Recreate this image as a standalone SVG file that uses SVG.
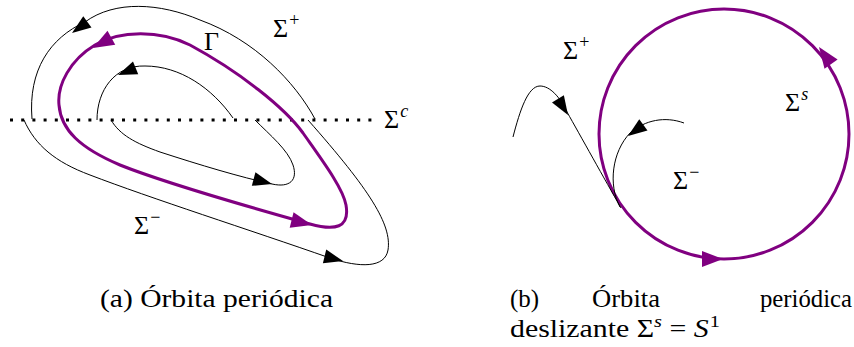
<svg xmlns="http://www.w3.org/2000/svg" width="854" height="347" viewBox="0 0 854 347">
<defs>
<style>
.bk{fill:none;stroke:#000;stroke-width:1}
.pu{fill:none;stroke:#800080;stroke-width:3}
.dot{fill:none;stroke:#000;stroke-width:3;stroke-dasharray:3 8.2}
.ahb{fill:#000}
.ahp{fill:#800080}
text{font-family:"Liberation Serif","Times New Roman",serif;fill:#000}
.lab{font-size:26px}
.sup{font-size:18px}
.csup{font-size:17px}
.it{font-style:italic}
.cap{font-size:25px}
</style>
<path id="ah" d="M0,0 L-19,-7 L-19,7 Z"/>
<path id="ahl" d="M0,0 L-21,-8 L-21,8 Z"/>
</defs>
<g id="fig-a">
  <g id="sigma-c-line">
    <line class="dot" x1="10" y1="120" x2="372" y2="120"/>
  </g>
  <g id="connectors-a">
    <path class="bk" d="M315,119 C295,82 255,40 200,20 C160,3 115,0 85,22 C50,38 28,70 32,119"/>
    <path class="bk" d="M24,120 C35,145 55,162 90,175 C150,198 250,230 330,258 C360,268 385,268 388,250 C392,225 370,190 308,120"/>
    <path class="bk" d="M233,118 C212,88 180,66 145,66 C115,65 97,90 97,120"/>
    <path class="bk" d="M111,120 C120,135 135,143 160,152 C200,165 240,177 272,184 C290,188 298,180 293,165 C288,150 270,135 255,120"/>
    <path class="pu" d="M303,133 C285,108 240,72 190,45 C160,30 120,30 95,45 C70,60 57,85 59,105 C61,130 80,148 120,165 C170,185 260,210 310,224 C335,231 350,228 346,205 C343,188 322,160 303,133 Z"/>
    <use href="#ah" class="ahb" transform="translate(72,33) rotate(144)"/>
    <use href="#ah" class="ahb" transform="translate(118,75) rotate(158)"/>
    <use href="#ah" class="ahb" transform="translate(272,184) rotate(15)"/>
    <use href="#ah" class="ahb" transform="translate(343,261) rotate(14)"/>
    <use href="#ahl" class="ahp" transform="translate(93,48) rotate(151)"/>
    <use href="#ahl" class="ahp" transform="translate(312,225) rotate(14)"/>
  </g>
  <g id="label-gamma"><text class="lab" x="204" y="50">Γ</text></g>
  <g id="label-splus-a"><text class="lab" x="273" y="37">Σ<tspan class="sup" dx="1" dy="-11">+</tspan></text></g>
  <g id="label-sc"><text class="lab" x="384" y="128">Σ<tspan class="sup it" dx="1" dy="-11">c</tspan></text></g>
  <g id="label-sminus-a"><text class="lab" x="134" y="234">Σ<tspan class="sup" dx="1" dy="-11">−</tspan></text></g>
  <g id="caption-a"><text class="cap" x="100" y="307" textLength="233" lengthAdjust="spacingAndGlyphs">(a) Órbita periódica</text></g>
</g>
<g id="fig-b">
  <g id="connectors-b">
    <circle class="pu" cx="724" cy="134" r="125"/>
    <path class="bk" d="M513,137 C520,110 528,86 540,86 C550,86 560,97 567,112 C580,135 605,180 621,208"/>
    <path class="bk" d="M684,123 C665,116 645,120 630,133 C612,152 608,185 620,207"/>
    <use href="#ah" class="ahb" transform="translate(568,115) rotate(58)"/>
    <use href="#ah" class="ahb" transform="translate(628,136) rotate(144)"/>
    <use href="#ahl" class="ahp" transform="translate(819,47) rotate(-125)"/>
    <use href="#ahl" class="ahp" transform="translate(723,259) rotate(0)"/>
  </g>
  <g id="label-splus-b"><text class="lab" x="563" y="59">Σ<tspan class="sup" dx="1" dy="-11">+</tspan></text></g>
  <g id="label-ss"><text class="lab" x="785" y="111">Σ<tspan class="sup it" dx="1" dy="-11">s</tspan></text></g>
  <g id="label-sminus-b"><text class="lab" x="673" y="189">Σ<tspan class="sup" dx="1" dy="-11">−</tspan></text></g>
  <g id="caption-b">
    <text class="cap" x="510" y="307">(b)</text>
    <text class="cap" x="592" y="307" textLength="68" lengthAdjust="spacingAndGlyphs">Órbita</text>
    <text class="cap" x="760" y="307" textLength="92" lengthAdjust="spacingAndGlyphs">periódica</text>
    <text class="cap" x="510" y="337" textLength="210" lengthAdjust="spacingAndGlyphs">deslizante Σ<tspan class="csup it" dy="-10">s</tspan><tspan dy="10"> = </tspan><tspan class="it">S</tspan><tspan class="csup" dx="1" dy="-10">1</tspan></text>
  </g>
</g>
</svg>
